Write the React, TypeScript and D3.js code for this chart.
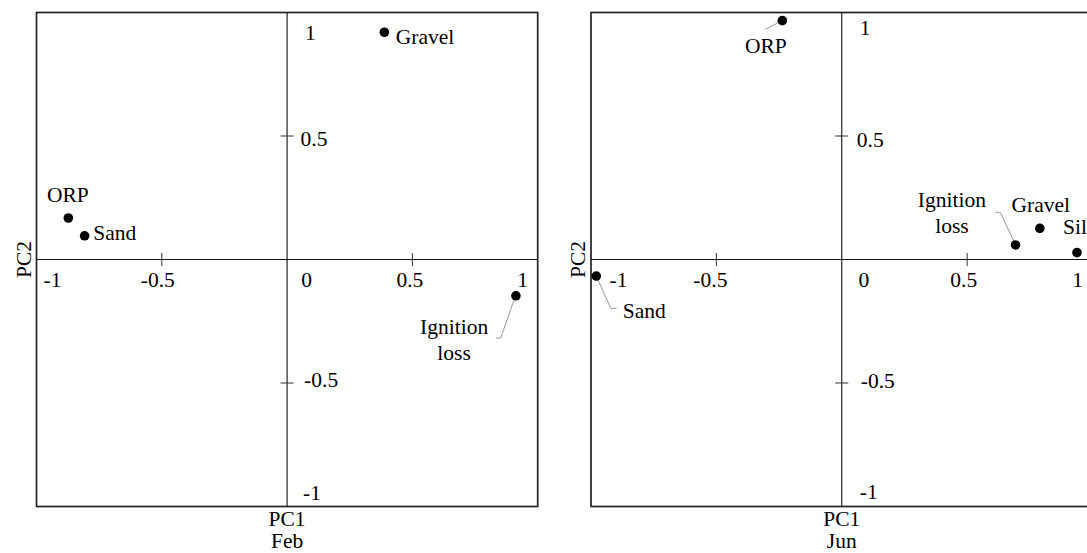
import React from "react";
import * as d3 from "d3";

// ---- data ----
const panelTitles = ["Feb", "Jun"];
const febVariables = ["Gravel", "ORP", "Sand", "Ignition loss"];
const febPC1 = [0.388, -0.873, -0.808, 0.913];
const febPC2 = [0.92, 0.168, 0.096, -0.147];
const junVariables = ["ORP", "Sand", "Ignition loss", "Gravel", "Silt"];
const junPC1 = [-0.237, -0.979, 0.693, 0.79, 0.938];
const junPC2 = [0.967, -0.067, 0.059, 0.126, 0.028];
const tickValues = [-1, -0.5, 0, 0.5, 1];
const tickLabels = ["-1", "-0.5", "0", "0.5", "1"];
const axisTitles = ["PC1", "PC2"];

// ---- layout / style ----
const W = 1087;
const H = 553;
const FONT = "'Liberation Serif', 'Times New Roman', serif";
const FS = 21.5;
const panelXRanges: [number, number][] = [
  [36.5, 537.7],
  [591, 1092.5],
];
const yRange: [number, number] = [506.5, 12.5];

type LabelLayout = {
  dx: number;
  dy: number;
  anchor: string;
  leader?: [number, number][];
};

const labelLayouts: Record<string, LabelLayout>[] = [
  {
    Gravel: { dx: 11.5, dy: 12, anchor: "start" },
    ORP: { dx: -0.5, dy: -16.3, anchor: "middle" },
    Sand: { dx: 8.7, dy: 3.8, anchor: "start" },
    "Ignition loss": {
      dx: -61.8,
      dy: 38.5,
      anchor: "middle",
      leader: [
        [-4, 10],
        [-15, 42],
        [-20, 42.5],
      ],
    },
  },
  {
    ORP: { dx: -16.4, dy: 32.6, anchor: "middle", leader: [[-17, 8.6]] },
    Sand: {
      dx: 26.6,
      dy: 42.3,
      anchor: "start",
      leader: [
        [14.5, 32.3],
        [20.4, 32.3],
      ],
    },
    "Ignition loss": {
      dx: -63.6,
      dy: -37.7,
      anchor: "middle",
      leader: [
        [-15, -32],
        [-20, -33],
      ],
    },
    Gravel: { dx: 1, dy: -16.6, anchor: "middle" },
    Silt: { dx: -14, dy: -18.5, anchor: "start" },
  },
];

// tick label offsets (px) relative to tick position
const xTickDx: Record<string, number>[] = [
  { "-1": 16, "-0.5": -4, "0": 19.5, "0.5": -2.5, "1": -15 },
  { "-1": 27.5, "-0.5": -6, "0": 22, "0.5": -3.4, "1": -15 },
];
const yTickDy: Record<string, number>[] = [
  { "1": 27, "0.5": 9.5, "-0.5": 4, "-1": -6.5 },
  { "1": 22, "0.5": 10.5, "-0.5": 4.5, "-1": -8 },
];
const yTickDx: Record<string, number>[] = [
  { "1": 18, "0.5": 13.5, "-0.5": 17, "-1": 16 },
  { "1": 18, "0.5": 15, "-0.5": 19, "-1": 18 },
];

const panelData = [
  { vars: febVariables, pc1: febPC1, pc2: febPC2 },
  { vars: junVariables, pc1: junPC1, pc2: junPC2 },
];

function Panel({ idx }: { idx: number }) {
  const x = d3.scaleLinear().domain([-1, 1]).range(panelXRanges[idx]);
  const y = d3.scaleLinear().domain([-1, 1]).range(yRange);
  const { vars, pc1, pc2 } = panelData[idx];
  const layout = labelLayouts[idx];
  const x0 = x(0);
  const y0 = y(0);
  const line = d3.line();

  return (
    <g>
      {/* frame */}
      <rect
        x={x(-1)}
        y={y(1)}
        width={x(1) - x(-1)}
        height={y(-1) - y(1)}
        fill="none"
        stroke="#222"
        strokeWidth={1.7}
      />
      {/* zero axes */}
      <line x1={x(-1)} x2={x(1)} y1={y0} y2={y0} stroke="#111" strokeWidth={1.1} />
      <line x1={x0} x2={x0} y1={y(1)} y2={y(-1)} stroke="#111" strokeWidth={1.1} />
      {/* ticks */}
      {tickValues
        .filter((v) => Math.abs(v) === 0.5)
        .map((v) => (
          <g key={"t" + v}>
            <line x1={x(v)} x2={x(v)} y1={y0 - 6.5} y2={y0 + 6.5} stroke="#333" strokeWidth={1} />
            <line x1={x0 - 6.5} x2={x0 + 6.5} y1={y(v)} y2={y(v)} stroke="#333" strokeWidth={1} />
          </g>
        ))}
      {/* x tick labels */}
      {tickValues.map((v, i) => (
        <text
          key={"xl" + v}
          x={x(v) + xTickDx[idx][tickLabels[i]]}
          y={y0 + 27.5}
          textAnchor="middle"
          fontFamily={FONT}
          fontSize={FS}
          fill="#000"
        >
          {tickLabels[i]}
        </text>
      ))}
      {/* y tick labels */}
      {tickValues.map((v, i) =>
        v === 0 ? null : (
          <text
            key={"yl" + v}
            x={x0 + yTickDx[idx][tickLabels[i]]}
            y={y(v) + yTickDy[idx][tickLabels[i]]}
            textAnchor="start"
            fontFamily={FONT}
            fontSize={FS}
            fill="#000"
          >
            {tickLabels[i]}
          </text>
        )
      )}
      {/* leaders */}
      {vars.map((name, i) => {
        const l = layout[name];
        if (!l || !l.leader) return null;
        const px = x(pc1[i]);
        const py = y(pc2[i]);
        const pts: [number, number][] = [[px, py], ...l.leader.map(([a, b]) => [px + a, py + b] as [number, number])];
        return <path key={"ld" + name} d={line(pts) || ""} fill="none" stroke="#999" strokeWidth={1} />;
      })}
      {/* points */}
      {vars.map((name, i) => (
        <circle key={"c" + name} cx={x(pc1[i])} cy={y(pc2[i])} r={4.8} fill="#000" />
      ))}
      {/* point labels */}
      {vars.map((name, i) => {
        const l = layout[name];
        const px = x(pc1[i]);
        const py = y(pc2[i]);
        const words = name === "Ignition loss" ? ["Ignition", "loss"] : [name];
        return (
          <text
            key={"pl" + name}
            x={px + l.dx}
            y={py + l.dy}
            textAnchor={l.anchor as any}
            fontFamily={FONT}
            fontSize={FS}
            fill="#000"
          >
            {words.map((w, k) => (
              <tspan key={k} x={px + l.dx} dy={k === 0 ? 0 : 26}>
                {w}
              </tspan>
            ))}
          </text>
        );
      })}
      {/* axis titles */}
      <text x={x0} y={526} textAnchor="middle" fontFamily={FONT} fontSize={FS} fill="#000">
        {axisTitles[0]}
      </text>
      <text x={x0} y={548} textAnchor="middle" fontFamily={FONT} fontSize={FS} fill="#000">
        {panelTitles[idx]}
      </text>
      <text
        transform={`translate(${x(-1) - 6},${y0}) rotate(-90)`}
        textAnchor="middle"
        fontFamily={FONT}
        fontSize={FS}
        fill="#000"
      >
        {axisTitles[1]}
      </text>
    </g>
  );
}

export default function App() {
  return (
    <svg
      width={W}
      height={H}
      style={{ position: "absolute", left: 0, top: 0, background: "#fff" }}
    >
      <rect x={0} y={0} width={W} height={H} fill="#fff" />
      {panelTitles.map((_, i) => (
        <Panel key={i} idx={i} />
      ))}
    </svg>
  );
}
